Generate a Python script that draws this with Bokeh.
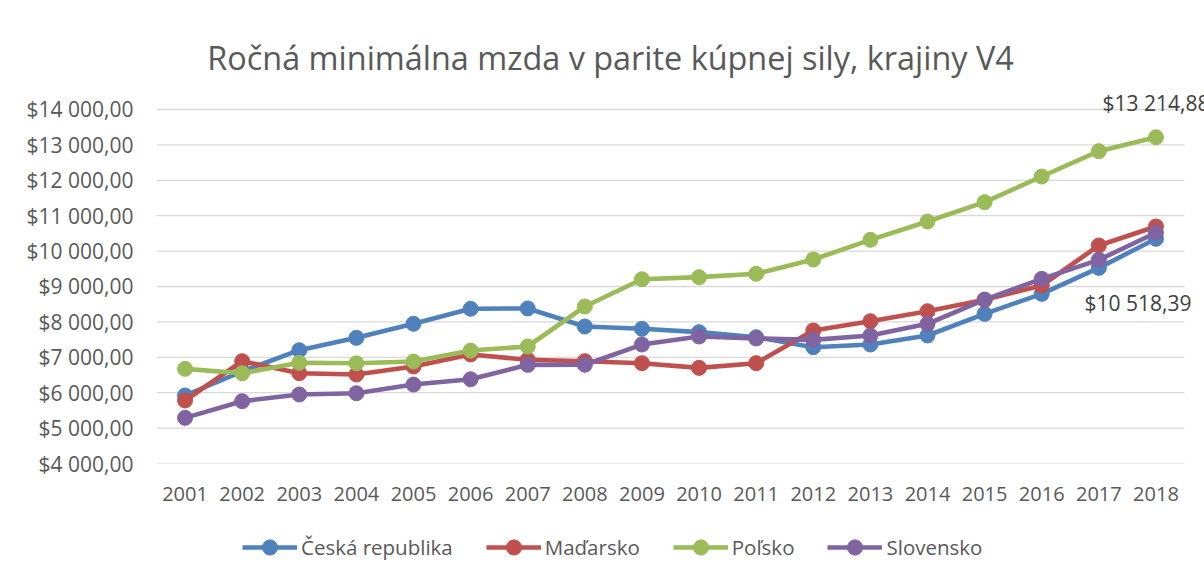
from bokeh.plotting import figure
from bokeh.layouts import column
from bokeh.models import Range1d, FixedTicker, Legend, LegendItem, Label
from bokeh.embed import file_html
from bokeh.resources import INLINE

# ---------------- data ----------------
years = list(range(2001, 2019))
series_names = ["Česká republika", "Maďarsko", "Poľsko", "Slovensko"]
ceska = [5921, 6600, 7200, 7550, 7946, 8370, 8380, 7870, 7805, 7710,
         7568, 7286, 7362, 7616, 8228, 8793, 9527, 10347]
madarsko = [5780, 6890, 6550, 6514, 6740, 7080, 6930, 6890, 6834, 6702,
            6834, 7757, 8020, 8302, 8623, 9028, 10158, 10695]
polsko = [6674, 6550, 6844, 6830, 6880, 7190, 7305, 8435, 9206, 9264,
          9359, 9763, 10319, 10836, 11382, 12107, 12823, 13214.88]
slovensko = [5290, 5760, 5950, 5985, 6230, 6380, 6787, 6790, 7360, 7588,
             7530, 7493, 7616, 7945, 8630, 9216, 9753, 10518.39]
y_ticks = [4000, 5000, 6000, 7000, 8000, 9000, 10000, 11000, 12000, 13000, 14000]
y_tick_labels = ["$4 000,00", "$5 000,00", "$6 000,00", "$7 000,00", "$8 000,00",
                 "$9 000,00", "$10 000,00", "$11 000,00", "$12 000,00",
                 "$13 000,00", "$14 000,00"]
title_text = "Ročná minimálna mzda v parite kúpnej sily, krajiny V4"
label_pl = "$13 214,88"
label_sk = "$10 518,39"

# ---------------- styles ----------------
colors = ["#4F81BD", "#C0504D", "#9BBB59", "#8064A2"]
FONT = "Open Sans"
TXT = "#595959"
GRID = "#d9d9d9"

x_lo, x_hi = years[0] - 0.5, years[-1] + 0.5
all_series = [ceska, madarsko, polsko, slovensko]

# main chart: the frame reaches the top/right canvas edge so that the title and
# data labels are not clipped; the value axis itself stops at the 14 000 tick
p = figure(width=1204, height=518, output_backend="svg", toolbar_location=None,
           x_range=Range1d(x_lo, x_hi + 0.35), y_range=Range1d(4000, 17079),
           min_border_left=156, min_border_right=0,
           min_border_top=0, min_border_bottom=55)
p.background_fill_color = "white"
p.border_fill_color = "white"
p.outline_line_color = None
p.xgrid.grid_line_color = None
p.ygrid.grid_line_color = None

yt = FixedTicker(ticks=y_ticks)
p.yaxis.ticker = yt
p.yaxis.major_label_overrides = dict(zip(y_ticks, y_tick_labels))
p.xaxis.ticker = FixedTicker(ticks=years)

for ax in (p.xaxis, p.yaxis):
    ax.axis_line_color = None
    ax.major_tick_line_color = None
    ax.minor_tick_line_color = None
    ax.major_tick_out = 0
    ax.major_tick_in = 0
    ax.major_label_text_font = FONT
    ax.major_label_text_color = TXT
p.yaxis.major_label_text_font_size = "21px"
p.yaxis.major_label_standoff = 23
p.xaxis.major_label_text_font_size = "20px"
p.xaxis.major_label_standoff = 23

# horizontal gridlines over the category span only
p.segment(x0=x_lo, x1=x_hi, y0=y_ticks, y1=y_ticks, line_color=GRID, line_width=1.3)

for vals, color in zip(all_series, colors):
    p.line(years, vals, line_color=color, line_width=4.6, line_join="round")
    p.scatter(years, vals, size=15, fill_color=color, line_color=color)

p.add_layout(Label(x=years[-1], y=polsko[-1], text=label_pl, y_offset=34,
                   text_align="center", text_baseline="alphabetic",
                   text_font=FONT, text_font_size="21px", text_color="#404040"))
p.add_layout(Label(x=years[-1], y=slovensko[-1], text=label_sk, x_offset=-18, y_offset=-70,
                   text_align="center", text_baseline="alphabetic",
                   text_font=FONT, text_font_size="21px", text_color="#404040"))
p.add_layout(Label(x=2008.45, y=15497, text=title_text,
                   text_align="center", text_baseline="alphabetic",
                   text_font=FONT, text_font_size="32.4px", text_color=TXT))

# legend strip below the chart (its renderers carry the series but stay hidden)
pl = figure(width=1204, height=60, output_backend="svg", toolbar_location=None,
            x_axis_type=None, y_axis_type=None,
            min_border_left=0, min_border_right=0, min_border_top=0, min_border_bottom=0)
pl.outline_line_color = None
pl.xgrid.grid_line_color = None
pl.ygrid.grid_line_color = None
pl.background_fill_color = "white"
pl.border_fill_color = "white"

items = []
for name, vals, color in zip(series_names, all_series, colors):
    r1 = pl.line(years, vals, line_color=color, line_width=4.6, visible=False)
    r2 = pl.scatter(years, vals, size=15, fill_color=color, line_color=color, visible=False)
    items.append(LegendItem(label=name, renderers=[r1, r2]))

legend = Legend(items=items, orientation="horizontal", location=(86, 12),
                glyph_width=55, glyph_height=38, label_standoff=4, spacing=33,
                padding=0, margin=0, border_line_color=None,
                background_fill_alpha=0, label_text_font=FONT,
                label_text_font_size="20.5px", label_text_color=TXT,
                inactive_fill_alpha=0)
pl.add_layout(legend)

layout = column(p, pl, spacing=0)
open("out.html", "w").write(file_html(layout, INLINE))
